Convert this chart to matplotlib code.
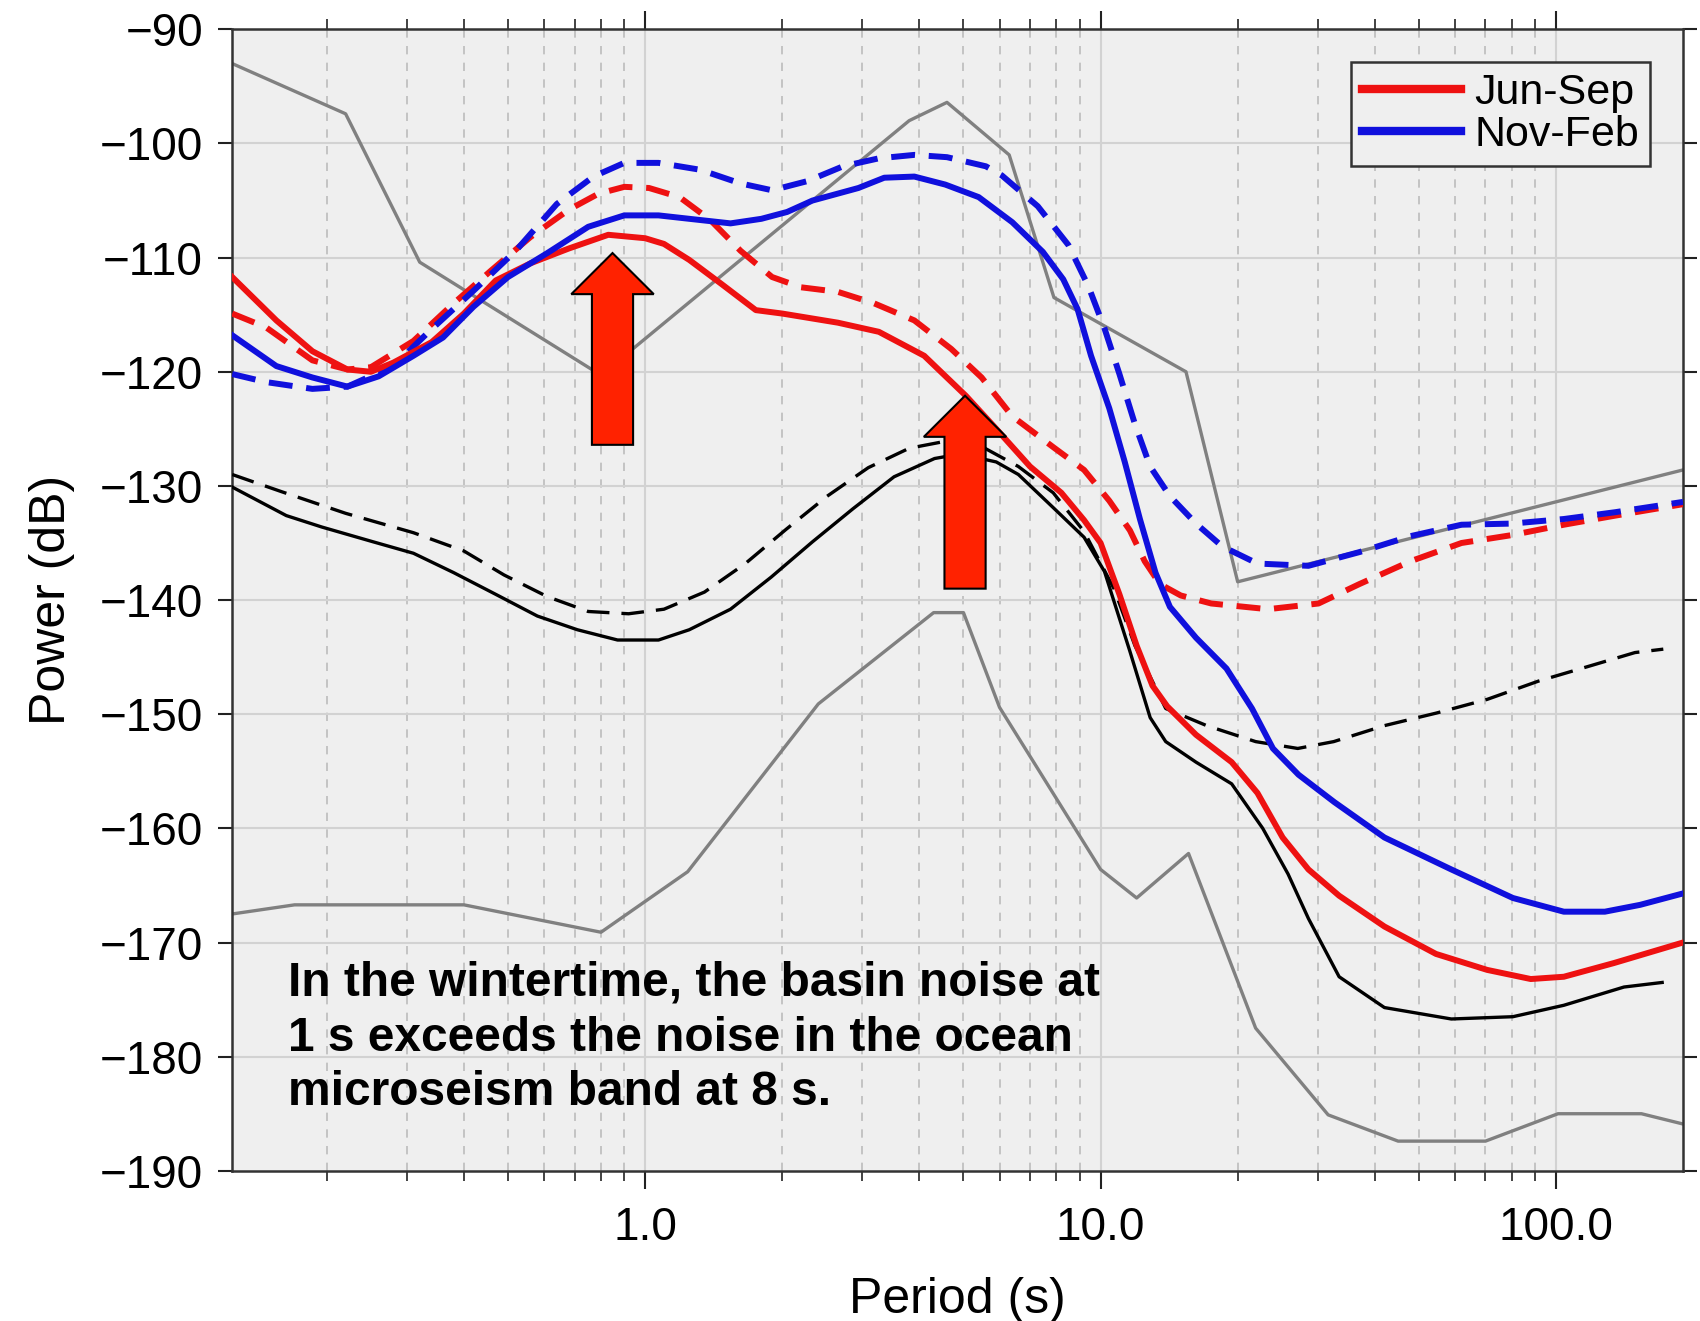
import numpy as np
import matplotlib
matplotlib.use("Agg")
import matplotlib.pyplot as plt
from matplotlib.patches import Polygon
from matplotlib.ticker import FixedLocator, NullFormatter

plt.rcParams['font.family'] = ['Liberation Sans', 'DejaVu Sans']

# --- data (period in s, power in dB) ---
nhnm_period = [0.124, 0.22, 0.32, 0.80, 3.8, 4.6, 6.3, 7.9, 15.4, 20.0, 190]
nhnm_db = [-93.0, -97.4, -110.4, -120.3, -98.0, -96.4, -101.0, -113.5, -120.0, -138.4, -128.6]

nlnm_period = [0.124, 0.17, 0.4, 0.8, 1.24, 2.4, 4.3, 5.0, 6.0, 10.0, 12.0, 15.6,
               21.9, 31.6, 45.0, 70.0, 101.0, 154.0, 190.0]
nlnm_db = [-167.5, -166.7, -166.7, -169.1, -163.8, -149.1, -141.1, -141.1, -149.4,
           -163.6, -166.1, -162.2, -177.5, -185.1, -187.4, -187.4, -185.0, -185.0, -185.9]

red_solid_period = [0.124, 0.155, 0.186, 0.222, 0.25, 0.28, 0.34, 0.40, 0.47, 0.56, 0.68,
                    0.83, 1.0, 1.1, 1.25, 1.47, 1.75, 2.0, 2.65, 3.26, 4.1, 5.06, 5.9, 7.0,
                    8.2, 9.2, 10.0, 11.0, 12.0, 13.0, 14.0, 16.2, 19.4, 22.1, 25.1, 28.6,
                    33.4, 42, 54.5, 70.6, 88, 104, 134, 190]
red_solid_db = [-111.7, -115.5, -118.2, -119.8, -120.0, -119.2, -117.4, -114.9, -112.0,
                -110.5, -109.2, -108.0, -108.3, -108.8, -110.2, -112.3, -114.6, -114.9,
                -115.7, -116.5, -118.6, -122.1, -125.0, -128.3, -130.6, -133.0, -135.0,
                -139.5, -144.0, -147.5, -149.3, -151.8, -154.2, -156.9, -160.8, -163.6,
                -165.9, -168.6, -171.0, -172.4, -173.2, -173.0, -171.8, -170.0]

red_dash_period = [0.124, 0.147, 0.186, 0.222, 0.25, 0.31, 0.38, 0.46, 0.56, 0.68, 0.79,
                   0.90, 1.02, 1.19, 1.39, 1.62, 1.90, 2.2, 2.65, 3.18, 3.9, 4.7, 5.48,
                   6.4, 7.87, 9.2, 10.45, 11.6, 12.5, 13.5, 15.0, 17.5, 23.3, 30.1, 37,
                   47.9, 62, 80.2, 104, 135, 190]
red_dash_db = [-114.9, -116.1, -119.0, -119.8, -119.6, -117.3, -114.0, -111.1, -108.2,
               -105.8, -104.4, -103.8, -103.9, -104.7, -106.7, -109.4, -111.7, -112.6,
               -113.0, -114.0, -115.5, -118.0, -120.5, -123.9, -126.6, -128.6, -131.3,
               -133.9, -136.6, -138.6, -139.6, -140.3, -140.8, -140.3, -138.6, -136.6,
               -135.0, -134.3, -133.4, -132.6, -131.6]

blue_solid_period = [0.124, 0.155, 0.186, 0.222, 0.26, 0.31, 0.36, 0.42, 0.50, 0.61, 0.75,
                     0.90, 1.07, 1.25, 1.54, 1.8, 2.05, 2.33, 2.94, 3.35, 3.9, 4.56, 5.4,
                     6.4, 7.47, 8.28, 8.9, 9.53, 10.45, 11.3, 12.2, 13.2, 14.2, 16.2, 18.9,
                     21.5, 23.9, 27.2, 32.6, 42, 58.9, 80.4, 104, 128, 153, 190]
blue_solid_db = [-116.8, -119.5, -120.5, -121.3, -120.4, -118.6, -117.0, -114.3, -111.7,
                 -109.6, -107.3, -106.3, -106.3, -106.6, -107.0, -106.6, -106.0, -105.0,
                 -103.9, -103.0, -102.9, -103.6, -104.7, -106.9, -109.5, -111.9, -114.5,
                 -118.6, -123.2, -127.9, -132.9, -137.6, -140.6, -143.3, -146.0, -149.5,
                 -153.0, -155.3, -157.7, -160.8, -163.6, -166.1, -167.3, -167.3, -166.7,
                 -165.7]

blue_dash_period = [0.124, 0.147, 0.186, 0.222, 0.28, 0.337, 0.42, 0.52, 0.64, 0.77, 0.90,
                    1.07, 1.32, 1.62, 1.90, 2.27, 2.72, 3.26, 3.9, 4.6, 5.6, 6.07, 7.28,
                    8.5, 9.4, 10.2, 11.0, 11.9, 12.85, 14.2, 16.2, 18.5, 22.1, 28.6, 37,
                    47.9, 62, 80, 104, 135, 190]
blue_dash_db = [-120.2, -120.9, -121.5, -121.3, -119.5, -116.4, -112.9, -109.4, -105.3,
                -102.9, -101.7, -101.7, -102.3, -103.5, -104.1, -103.3, -102.0, -101.3,
                -101.0, -101.2, -102.0, -102.8, -105.5, -108.9, -112.5, -116.2, -120.2,
                -124.6, -128.3, -130.9, -133.3, -135.3, -136.8, -137.0, -135.8, -134.4,
                -133.4, -133.3, -132.9, -132.3, -131.4]

black_solid_period = [0.124, 0.163, 0.195, 0.253, 0.31, 0.38, 0.47, 0.58, 0.71, 0.87, 1.07,
                      1.25, 1.54, 1.89, 2.33, 2.86, 3.52, 4.32, 4.92, 5.9, 6.6, 7.87, 9.2,
                      10.2, 11.6, 12.85, 13.9, 16.2, 19.4, 22.7, 25.8, 28.6, 33.4, 42, 58.9,
                      80.4, 104, 141, 171]
black_solid_db = [-130.1, -132.6, -133.6, -134.9, -135.9, -137.6, -139.5, -141.4, -142.6,
                  -143.5, -143.5, -142.6, -140.8, -138.0, -134.9, -132.0, -129.2, -127.6,
                  -127.2, -127.9, -129.0, -131.9, -134.5, -137.5, -144.5, -150.3, -152.4,
                  -154.2, -156.1, -160.0, -164.0, -167.9, -173.0, -175.7, -176.7, -176.5,
                  -175.5, -173.9, -173.5]

black_dash_period = [0.124, 0.159, 0.22, 0.31, 0.40, 0.49, 0.61, 0.75, 0.92, 1.10, 1.35,
                     1.66, 2.04, 2.51, 3.09, 3.8, 4.55, 5.34, 6.6, 7.87, 9.2, 10.7, 11.9,
                     13.9, 17.1, 21.9, 27.1, 32.5, 42, 54.6, 70.6, 91.5, 118, 149, 172]
black_dash_db = [-129.0, -130.5, -132.4, -134.1, -135.7, -137.8, -139.7, -141.0, -141.2,
                 -140.8, -139.3, -136.8, -133.8, -130.9, -128.4, -126.7, -126.1, -126.3,
                 -128.3, -130.6, -134.0, -139.0, -144.0, -149.5, -151.0, -152.4, -153.0,
                 -152.4, -151.0, -149.9, -148.7, -147.1, -145.8, -144.6, -144.3]

# arrows: (period of tip, dB of tip, dB of tail)
arrow_tips = [(0.848, -109.6, -126.4), (5.04, -122.1, -139.0)]

note = ("In the wintertime, the basin noise at\n"
        "1 s exceeds the noise in the ocean\n"
        "microseism band at 8 s.")

RED = '#ee1111'
BLUE = '#1010dd'
GRAY = '#808080'

fig = plt.figure(figsize=(17, 13.21), dpi=100)
ax = fig.add_axes([0.1365, 0.1137, 0.8535, 0.8641])
ax.set_facecolor('#efefef')
ax.set_xscale('log')
ax.set_xlim(0.1239, 190)
ax.set_ylim(-190, -90)

# grid
minor = [m * 10.0 ** e for e in (-1, 0, 1) for m in range(2, 10)]
minor = [v for v in minor if 0.1239 < v < 190]
for v in minor:
    ax.axvline(v, color='#bcbcbc', lw=1.2, ls=(0, (5, 5)), zorder=0)
for v in (1, 10, 100):
    ax.axvline(v, color='#d2d2d2', lw=1.5, zorder=0)
for v in range(-180, -90, 10):
    ax.axhline(v, color='#d2d2d2', lw=1.5, zorder=0)

ax.plot(nhnm_period, nhnm_db, color=GRAY, lw=2.4, zorder=2)
ax.plot(nlnm_period, nlnm_db, color=GRAY, lw=2.4, zorder=2)
ax.plot(black_dash_period, black_dash_db, color='black', lw=2.4, dashes=(6.8, 3.6), zorder=3)
ax.plot(black_solid_period, black_solid_db, color='black', lw=2.4, zorder=3)
ax.plot(red_dash_period, red_dash_db, color=RED, lw=4.3, dashes=(4.0, 2.3), zorder=4)
ax.plot(blue_dash_period, blue_dash_db, color=BLUE, lw=4.3, dashes=(4.0, 2.3), zorder=4)
ax.plot(red_solid_period, red_solid_db, color=RED, lw=4.3, zorder=5, label='Jun-Sep')
ax.plot(blue_solid_period, blue_solid_db, color=BLUE, lw=4.3, zorder=5, label='Nov-Feb')

# block arrows (widths in decades of period)
shaft, head, head_len = 0.0452, 0.0905, 3.6
for p, tip, tail in arrow_tips:
    lp = np.log10(p)
    base = tip - head_len
    xs = [lp - shaft, lp - shaft, lp - head, lp, lp + head, lp + shaft, lp + shaft]
    ys = [tail, base, base, tip, base, base, tail]
    ax.add_patch(Polygon(list(zip(10 ** np.array(xs), ys)), closed=True,
                         facecolor='#ff2200', edgecolor='black', lw=1.5, zorder=6))

ax.text(0.1645, -171.6, note, fontsize=34.5, fontweight='bold', linespacing=1.28,
        va='top', ha='left', zorder=7)

leg = ax.legend(loc='upper right', bbox_to_anchor=(0.977, 0.971), borderaxespad=0,
                fontsize=31, handlelength=2.3, handletextpad=0.3, labelspacing=0.05,
                borderpad=0.25, fancybox=False, framealpha=1, facecolor='#efefef',
                edgecolor='#333333')
leg.get_frame().set_linewidth(1.8)
for h in leg.legend_handles:
    h.set_linewidth(6)

# ticks
ax.xaxis.set_major_locator(FixedLocator([1, 10, 100]))
ax.set_xticklabels(['1.0', '10.0', '100.0'])
ax.xaxis.set_minor_locator(FixedLocator(minor))
ax.xaxis.set_minor_formatter(NullFormatter())
ax.set_yticks(range(-190, -89, 10))
ax.set_yticklabels(['\u2212%d' % abs(v) for v in range(-190, -89, 10)])
ax.tick_params(axis='x', which='major', direction='out', length=13, width=1.5,
               top=True, labelsize=33, pad=12, colors='#222222')
ax.tick_params(axis='x', which='minor', direction='out', length=7, width=1.2, top=True,
               colors='#222222')
ax.tick_params(axis='y', direction='out', length=10, width=1.5, right=True,
               labelsize=33, pad=11, colors='#222222')
for lab in ax.get_xticklabels() + ax.get_yticklabels():
    lab.set_color('black')
for s in ax.spines.values():
    s.set_color('#333333')
    s.set_linewidth(1.8)

ax.set_xlabel('Period (s)', fontsize=36, labelpad=20)
ax.set_ylabel('Power (dB)', fontsize=36, labelpad=18)

fig.savefig('out.png', dpi=100)
